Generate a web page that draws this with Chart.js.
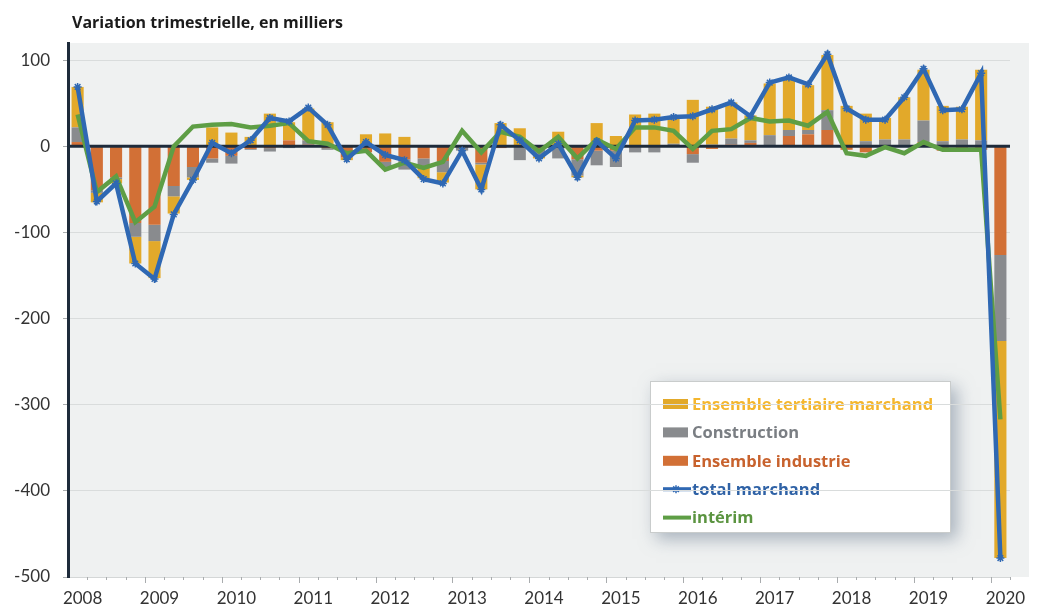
<!DOCTYPE html>
<html>
<head>
<meta charset="utf-8">
<script src="https://cdn.jsdelivr.net/npm/chart.js@4.4.1/dist/chart.umd.min.js"></script>
<style>
  html, body { margin: 0; padding: 0; background: #fff; }
  #wrap { width: 1040px; height: 605px; }
</style>
</head>
<body>
<div id="wrap"><canvas id="chart" width="1040" height="605"></canvas></div>
<script>
// Quarters (T = trimestre)
const quarters = [
  '2008T1','2008T2','2008T3','2008T4','2009T1','2009T2','2009T3','2009T4',
  '2010T1','2010T2','2010T3','2010T4','2011T1','2011T2','2011T3','2011T4',
  '2012T1','2012T2','2012T3','2012T4','2013T1','2013T2','2013T3','2013T4',
  '2014T1','2014T2','2014T3','2014T4','2015T1','2015T2','2015T3','2015T4',
  '2016T1','2016T2','2016T3','2016T4','2017T1','2017T2','2017T3','2017T4',
  '2018T1','2018T2','2018T3','2018T4','2019T1','2019T2','2019T3','2019T4',
  '2020T1'
];

// quarterly change, thousands
const industrie = [
  5, -51, -36, -89, -91, -46, -24, -14,
  -11, -3, -2, 7, 2, -2, -13, -7,
  -18, -15, -14, -17, -1, -19, -2, 0,
  -4, 0, -15, -5, -5, -1, -1, 0,
  -9, -3, 2, 4, 0, 12, 14, 19,
  -4, -7, 0, 0, 5, -5, -3, -4,
  -126
];
const construction = [
  17, -3, -2, -16, -19, -12, -12, -5,
  -9, -1, -4, -2, 5, -2, 0, 0,
  -6, -12, -11, -13, -4, -2, 0, -16,
  -8, -14, -19, -17, -19, -6, -6, 3,
  -10, 2, 7, 3, 13, 7, 5, 23,
  0, 6, 8, 8, 25, 6, 8, 7,
  -100
];
const tertiaire = [
  47, -11, -5, -31, -43, -20, -3, 22,
  16, 11, 38, 21, 37, 28, -3, 14,
  15, 11, -12, -12, 0, -29, 27, 21,
  -2, 17, -2, 27, 12, 37, 38, 31,
  54, 44, 42, 29, 60, 59, 52, 64,
  47, 32, 25, 49, 59, 41, 38, 82,
  -252
];
const totalMarchand = [
  69, -64, -43, -136, -154, -79, -39, 4,
  -8, 7, 33, 29, 45, 25, -15, 5,
  -10, -16, -38, -43, -5, -50, 25, 7,
  -14, 3, -36, 6, -14, 30, 31, 34,
  35, 43, 51, 35, 74, 80, 72, 107,
  44, 31, 31, 57, 90, 42, 43, 85,
  -478
];
const interim = [
  37, -53, -35, -88, -70, 0, 23, 25,
  26, 22, 24, 27, 6, 3, -8, -5,
  -27, -19, -25, -18, 18, -7, 17, 11,
  -6, 11, -14, 8, -3, 22, 22, 18,
  -3, 18, 20, 33, 29, 30, 24, 40,
  -8, -11, -1, -8, 5, -4, -4, -4,
  -317
];
const yTicks = [-500, -400, -300, -200, -100, 0, 100];

const FONT = '"Open Sans", "Noto Sans", sans-serif';
const TICK_FONT = 'Lato, "Open Sans", sans-serif';
const C_TER = '#e2a92a', C_CON = '#898b8e', C_IND = '#d27036';
const C_TOT = '#2f68b3', C_INT = '#5e9e45';
const AXIS_DARK = '#1e2b3b';

const legendItems = [
  { text: 'Ensemble tertiaire marchand', color: C_TER, textColor: '#f4b62e', type: 'box' },
  { text: 'Construction', color: C_CON, textColor: '#7a7e83', type: 'box' },
  { text: 'Ensemble industrie', color: C_IND, textColor: '#c8622d', type: 'box' },
  { text: 'total marchand', color: C_TOT, textColor: '#2f62a6', type: 'star' },
  { text: 'intérim', color: C_INT, textColor: '#5b9440', type: 'line' },
];

const backdrop = {
  id: 'backdrop',
  beforeDraw(chart) {
    const { ctx, chartArea: ca } = chart;
    ctx.save();
    ctx.fillStyle = '#ffffff';
    ctx.fillRect(0, 0, chart.width, chart.height);
    ctx.fillStyle = '#eff1f1';
    ctx.fillRect(ca.left, ca.top, ca.right - ca.left + 19, ca.bottom - ca.top);

    // legend box (gridlines get drawn over it, like the original)
    const bx = ca.left + 582, by = ca.top + 338, bw = 301, bh = 152;
    ctx.shadowColor = 'rgba(110,125,145,0.55)';
    ctx.shadowBlur = 16;
    ctx.shadowOffsetX = 6;
    ctx.shadowOffsetY = 6;
    ctx.fillStyle = '#fff';
    ctx.fillRect(bx, by, bw, bh);
    ctx.shadowColor = 'transparent';
    ctx.strokeStyle = '#c9cccc';
    ctx.lineWidth = 1;
    ctx.strokeRect(bx + 0.5, by + 0.5, bw - 1, bh - 1);

    ctx.font = 'bold 16.5px ' + FONT;
    ctx.textBaseline = 'middle';
    legendItems.forEach((it, i) => {
      const y = by + 23 + i * 28.4;
      if (it.type === 'box') {
        ctx.fillStyle = it.color;
        ctx.fillRect(bx + 13, y - 5, 25, 10);
      } else {
        ctx.strokeStyle = it.color;
        ctx.lineWidth = 4;
        ctx.beginPath();
        ctx.moveTo(bx + 13, y);
        ctx.lineTo(bx + 41, y);
        ctx.stroke();
        if (it.type === 'star') {
          ctx.lineWidth = 1.5;
          ctx.beginPath();
          for (let a = 0; a < 4; a++) {
            const ang = a * Math.PI / 4;
            ctx.moveTo(bx + 26 - 4 * Math.cos(ang), y - 4 * Math.sin(ang));
            ctx.lineTo(bx + 26 + 4 * Math.cos(ang), y + 4 * Math.sin(ang));
          }
          ctx.stroke();
        }
      }
      ctx.fillStyle = it.textColor;
      ctx.fillText(it.text, bx + 42, y + 1);
    });
    ctx.restore();
  },
  afterDatasetDraw(chart, args) {
    // zero line over the bars, under the two lines
    if (args.index !== 2) return;
    const { ctx, chartArea: ca, scales } = chart;
    const y0 = scales.y.getPixelForValue(0);
    ctx.save();
    ctx.strokeStyle = AXIS_DARK;
    ctx.lineWidth = 3;
    ctx.beginPath();
    ctx.moveTo(ca.left, y0);
    ctx.lineTo(ca.right, y0);
    ctx.stroke();
    ctx.restore();
  },
  afterDraw(chart) {
    const { ctx, chartArea: ca, scales } = chart;
    ctx.save();
    // quarter ticks under the x axis, longer at year boundaries
    const step = scales.x.getPixelForValue(1) - scales.x.getPixelForValue(0);
    ctx.strokeStyle = '#a9acae';
    ctx.lineWidth = 1;
    ctx.beginPath();
    for (let i = 1; i <= quarters.length; i++) {
      const x = Math.round(scales.x.getPixelForValue(i - 1) + step / 2) + 0.5;
      const len = (i % 4 === 0) ? 6 : 3;
      ctx.moveTo(x, ca.bottom);
      ctx.lineTo(x, ca.bottom + len);
    }
    ctx.stroke();
    // title
    ctx.fillStyle = '#1b1b1b';
    ctx.font = 'bold 16px ' + FONT;
    ctx.textBaseline = 'alphabetic';
    ctx.fillText('Variation trimestrielle, en milliers', ca.left + 4, 28);
    ctx.restore();
  }
};

new Chart(document.getElementById('chart'), {
  type: 'bar',
  data: {
    labels: quarters,
    datasets: [
      { type: 'line', label: 'total marchand', data: totalMarchand, order: 0, stack: 'tot',
        borderColor: C_TOT, backgroundColor: C_TOT, borderWidth: 4.5,
        pointStyle: 'star', pointRadius: 4, pointBorderWidth: 1.5, tension: 0 },
      { type: 'line', label: 'intérim', data: interim, order: 0, stack: 'int',
        borderColor: C_INT, backgroundColor: C_INT, borderWidth: 4.5,
        pointRadius: 0, tension: 0 },
      { label: 'Ensemble industrie', data: industrie, order: 1, stack: 'bars',
        backgroundColor: C_IND, borderWidth: 0 },
      { label: 'Construction', data: construction, order: 1, stack: 'bars',
        backgroundColor: C_CON, borderWidth: 0 },
      { label: 'Ensemble tertiaire marchand', data: tertiaire, order: 1, stack: 'bars',
        backgroundColor: C_TER, borderWidth: 0 },
    ]
  },
  options: {
    responsive: false,
    animation: false,
    devicePixelRatio: 1,
    layout: { padding: { left: 12, right: 30, top: 43, bottom: 0 } },
    datasets: { bar: { barPercentage: 0.63, categoryPercentage: 1 } },
    plugins: {
      legend: { display: false },
      tooltip: { enabled: false },
      title: { display: false },
    },
    scales: {
      x: {
        stacked: true,
        offset: true,
        grid: { drawOnChartArea: false, drawTicks: false },
        border: { color: '#d4d7d7', width: 1 },
        ticks: {
          autoSkip: false, maxRotation: 0, minRotation: 0,
          labelOffset: 5, padding: 11,
          color: '#333', font: { family: TICK_FONT, size: 17 },
          callback: (v, i) => (i % 4 === 0 ? quarters[i].slice(0, 4) : ''),
        },
        afterFit: (s) => { s.height = 28; },
      },
      y: {
        stacked: true,
        min: -500, max: 120,
        bounds: 'data',
        afterBuildTicks: (s) => { s.ticks = yTicks.map(v => ({ value: v })); },
        ticks: { padding: 13, color: '#333', font: { family: TICK_FONT, size: 17 } },
        grid: {
          color: (c) => (c.tick && c.tick.value === 0 ? 'rgba(0,0,0,0)' : '#d9dcdc'),
          tickColor: '#a9acae', tickLength: 5, lineWidth: 1,
        },
        border: { color: AXIS_DARK, width: 3 },
        afterFit: (s) => { s.width = 56; },
      }
    }
  },
  plugins: [backdrop]
});
</script>
</body>
</html>
